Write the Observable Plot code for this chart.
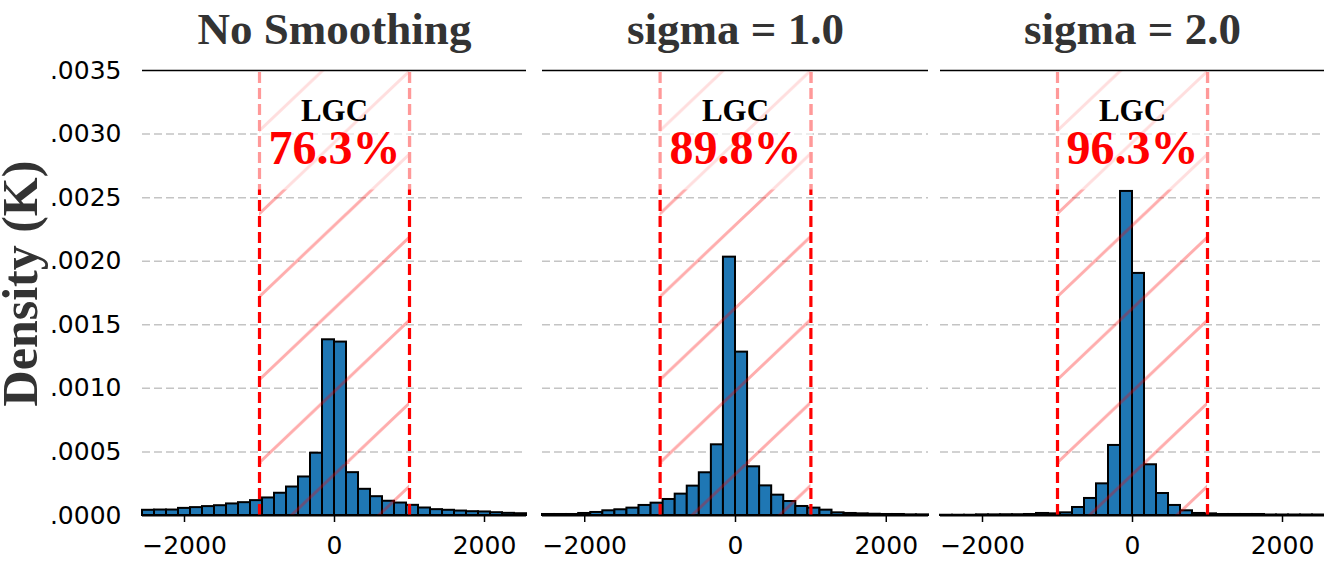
<!DOCTYPE html>
<html><head><meta charset="utf-8">
<script src="https://cdn.jsdelivr.net/npm/d3@7"></script>
<script src="https://cdn.jsdelivr.net/npm/@observablehq/plot@0.6"></script>
<style>
html,body{margin:0;padding:0;background:#fff;}
#chart{position:relative;width:1324px;height:561px;overflow:hidden;background:#fff;}
#chart svg{position:absolute;top:0;}
</style></head><body><div id="chart"></div>
<script>
const panelTitles = ["No Smoothing", "sigma = 1.0", "sigma = 2.0"];
const lgcPercent = ["76.3%", "89.8%", "96.3%"];
const binLeft = [-2560,-2400,-2240,-2080,-1920,-1760,-1600,-1440,-1280,-1120,-960,-800,-640,-480,-320,-160,0,160,320,480,640,800,960,1120,1280,1440,1600,1760,1920,2080,2240,2400];
const binWidth = 160;
const noSmoothing = [0.000041,0.000043,0.000043,0.000056,0.000062,0.000070,0.000077,0.000091,0.000101,0.000117,0.000138,0.000175,0.000224,0.000303,0.000490,0.001382,0.001364,0.000337,0.000206,0.000148,0.000112,0.000098,0.000080,0.000059,0.000046,0.000041,0.000035,0.000030,0.000028,0.000022,0.000017,0.000014];
const sigma1 = [0.000008,0.000008,0.000008,0.000016,0.000024,0.000037,0.000045,0.000058,0.000079,0.000097,0.000126,0.000168,0.000231,0.000336,0.000556,0.002032,0.001285,0.000383,0.000233,0.000160,0.000110,0.000071,0.000058,0.000042,0.000021,0.000016,0.000013,0.000010,0.000008,0.000008,0.000005,0.000005];
const sigma2 = [0.000002,0.000002,0.000002,0.000005,0.000005,0.000006,0.000006,0.000008,0.000016,0.000013,0.000021,0.000063,0.000134,0.000249,0.000551,0.002549,0.001904,0.000399,0.000173,0.000079,0.000037,0.000016,0.000013,0.000008,0.000008,0.000008,0.000008,0.000004,0.000004,0.000004,0.000004,0.000004];
const lgcRange = [-1000, 1000];
const xTicks = [-2000, 0, 2000];
const yTicks = [0, 0.0005, 0.0010, 0.0015, 0.0020, 0.0025, 0.0030, 0.0035];
const xDomain = [-2560, 2560];
const yDomain = [0, 0.0035];
const labelBoxBottom = 0.00256;

const series = [noSmoothing, sigma1, sigma2];
const layout = [
  {left: 0, width: 526, marginLeft: 142},
  {left: 542, width: 386, marginLeft: 0},
  {left: 940, width: 384, marginLeft: 0}
];
const serif = "'Liberation Serif', 'Times New Roman', serif";
const fmtX = d => d < 0 ? "\u2212" + (-d) : String(d);
const fmtY = d => d3.format(".4f")(d).replace(/^0/, "");
const mid = (lgcRange[0] + lgcRange[1]) / 2;
const chart = document.getElementById("chart");
const ns = "http://www.w3.org/2000/svg";

series.forEach((vals, i) => {
  const L = layout[i];
  const rows = binLeft.map((x, j) => ({x1: x, x2: x + binWidth, density: vals[j]}));
  const marks = [
    Plot.ruleY(yTicks.filter(d => d > yDomain[0] && d < yDomain[1]), {stroke: "#c4c4c4", strokeWidth: 1.5, strokeDasharray: "8,4"}),
    Plot.rect(rows, {x1: "x1", x2: "x2", y1: 0, y2: "density", fill: "#1f77b4", stroke: "black", strokeWidth: 2, inset: 0}),
    Plot.rect([lgcRange], {x1: d => d[0], x2: d => d[1], y1: yDomain[0], y2: yDomain[1], fill: `url(#hatch${i})`}),
    Plot.ruleX(lgcRange, {y1: yDomain[0], y2: yDomain[1], stroke: "red", strokeWidth: 3.2, strokeDasharray: "11,5"}),
    Plot.rect([lgcRange], {x1: d => d[0] * 1.03, x2: d => d[1] * 1.03, y1: labelBoxBottom, y2: yDomain[1], fill: "white", fillOpacity: 0.6}),
    Plot.ruleY([yDomain[1]], {stroke: "black", strokeWidth: 1.6}),
    Plot.ruleY([0], {stroke: "black", strokeWidth: 2}),
    Plot.axisX(xTicks, {tickSize: 7, tickPadding: 14, tickFormat: fmtX, fontSize: 25, strokeWidth: 1.5, stroke: "black", label: null}),
    Plot.text([panelTitles[i]], {text: d => d, frameAnchor: "top", lineAnchor: "bottom", dy: -27, fontFamily: serif, fontWeight: "bold", fontSize: 45, fill: "#333"}),
    Plot.text(["LGC"], {text: d => d, x: () => mid, frameAnchor: "top", lineAnchor: "bottom", dy: 50, fontFamily: serif, fontWeight: "bold", fontSize: 31, fill: "black"}),
    Plot.text([lgcPercent[i]], {text: d => d, x: () => mid, frameAnchor: "top", lineAnchor: "bottom", dy: 93, fontFamily: serif, fontWeight: "bold", fontSize: 48, fill: "red"})
  ];
  if (i === 0) {
    marks.push(Plot.axisY(yTicks, {tickSize: 0, tickPadding: 21, tickFormat: fmtY, fontSize: 25, label: null}));
    marks.push(Plot.text(["Density (K)"], {text: d => d, frameAnchor: "left", rotate: -90, dx: -122, dy: -9.5, lineAnchor: "middle", textAnchor: "middle", fontFamily: serif, fontWeight: "bold", fontSize: 50, fill: "#333"}));
  }
  const plot = Plot.plot({
    width: L.width,
    height: 561,
    marginTop: 70,
    marginBottom: 46,
    marginLeft: L.marginLeft,
    marginRight: 0,
    x: {domain: xDomain, axis: null},
    y: {domain: yDomain, axis: null},
    style: {fontFamily: "'DejaVu Sans', sans-serif", fontSize: "25px", background: "white", color: "black", overflow: "visible"},
    marks
  });
  // hatch pattern for the LGC band
  const x0 = plot.scale("x").apply(lgcRange[0]);
  const w = 87.4, h = 83;
  const defs = document.createElementNS(ns, "defs");
  const pat = document.createElementNS(ns, "pattern");
  pat.setAttribute("id", `hatch${i}`);
  pat.setAttribute("patternUnits", "userSpaceOnUse");
  pat.setAttribute("x", x0);
  pat.setAttribute("y", 380);
  pat.setAttribute("width", w);
  pat.setAttribute("height", h);
  const path = document.createElementNS(ns, "path");
  path.setAttribute("d", `M${-w},${2*h}L${2*w},${-h}M${-2*w},${2*h}L${w},${-h}M0,${2*h}L${3*w},${-h}`);
  path.setAttribute("stroke", "#ff0000");
  path.setAttribute("stroke-opacity", "0.32");
  path.setAttribute("stroke-width", "3");
  path.setAttribute("fill", "none");
  pat.appendChild(path);
  defs.appendChild(pat);
  plot.insertBefore(defs, plot.firstChild);
  plot.style.left = L.left + "px";
  chart.appendChild(plot);
});
</script>
</body></html>
